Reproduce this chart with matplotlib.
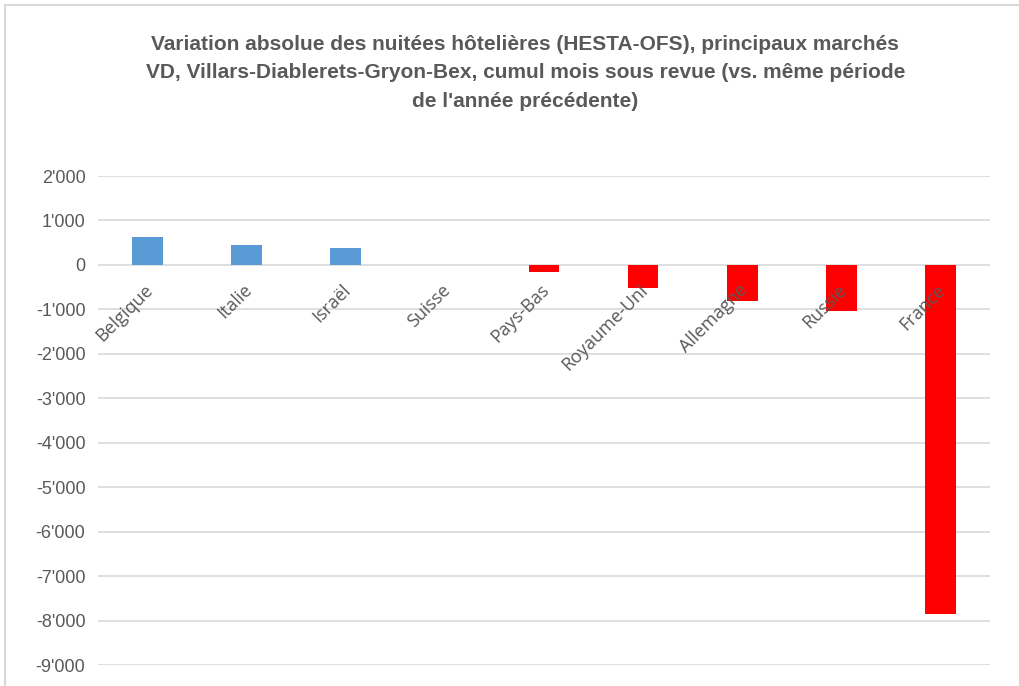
import matplotlib
matplotlib.use("Agg")
import matplotlib.pyplot as plt
from matplotlib import font_manager
from matplotlib.ticker import FuncFormatter
from matplotlib.patches import Rectangle

categories = ["Belgique", "Italie", "Israël", "Suisse", "Pays-Bas",
              "Royaume-Uni", "Allemagne", "Russie", "France"]
values = [630, 450, 375, 0, -158, -512, -818, -1030, -7850]
yticks = list(range(-9000, 2001, 1000))
title = ("Variation absolue des nuitées hôtelières (HESTA-OFS), principaux marchés\n"
         "VD, Villars-Diablerets-Gryon-Bex, cumul mois sous revue (vs. même période\n"
         "de l'année précédente)")

names = {f.name for f in font_manager.fontManager.ttflist}
narrow = "Liberation Sans Narrow" if "Liberation Sans Narrow" in names else "Liberation Sans"
plt.rcParams["font.family"] = [narrow, "DejaVu Sans"]

fig = plt.figure(figsize=(10.2, 6.86), dpi=100)
ax = fig.add_axes([0.096, 0.0306, 0.8746, 0.7128])

colors = ["#5B9BD5" if v >= 0 else "#FF0000" for v in values]
x = list(range(len(categories)))
ax.bar(x, values, width=0.31, color=colors, zorder=3)

ax.set_ylim(-9000, 2000)
ax.set_xlim(-0.5, len(categories) - 0.5)
ax.set_yticks(yticks)
ax.yaxis.set_major_formatter(FuncFormatter(lambda v, p: f"{int(v):,}".replace(",", "'")))
ax.grid(axis="y", color="#D9D9D9", linewidth=1.2, zorder=0)
ax.set_axisbelow(True)
for s in ["top", "right", "left", "bottom"]:
    ax.spines[s].set_visible(False)
ax.tick_params(axis="y", length=0, labelsize=13, labelcolor="#595959", pad=9)
ax.set_xticks([])

for i, name in enumerate(categories):
    ax.annotate(name, xy=(i, 0), xycoords="data", xytext=(-4, -16),
                textcoords="offset pixels", rotation=45, rotation_mode="anchor",
                ha="right", va="top", fontsize=13, color="#595959",
                family=["Open Sans", "DejaVu Sans"], zorder=5, annotation_clip=False)

fig.text(0.515, 0.949, title, ha="center", va="top", fontsize=15, fontweight="bold",
         color="#595959", linespacing=1.62)

fig.patches.append(Rectangle((5 / 1020, -0.1), 1.2, 1.1 - 5 / 686, transform=fig.transFigure,
                             fill=False, edgecolor="#D9D9D9", linewidth=1.5))

fig.savefig("out.png", dpi=100)
